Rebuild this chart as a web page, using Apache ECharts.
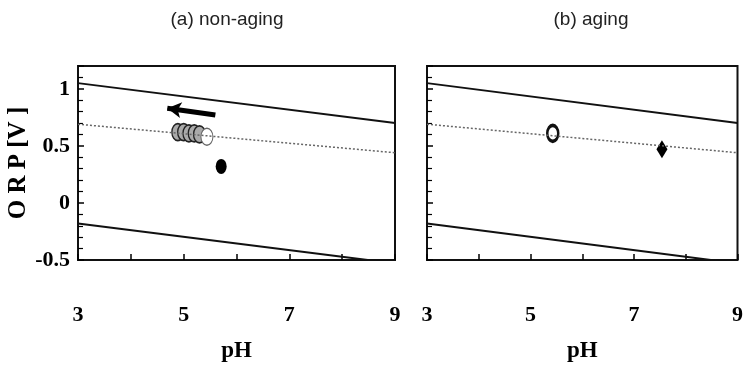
<!DOCTYPE html>
<html>
<head>
<meta charset="utf-8">
<script src="https://cdn.jsdelivr.net/npm/echarts@6/dist/echarts.min.js"></script>
<style>
  html, body { margin: 0; padding: 0; background: #fff; }
  #chart { width: 746px; height: 368px; }
</style>
</head>
<body>
<div id="chart"></div>
<script>
// 面板标题与坐标轴
const panelTitles = ["(a) non-aging", "(b) aging"];
const xTicks = [3, 5, 7, 9];
const yTicks = [-0.5, 0, 0.5, 1];

// 边界线（端点，从图上读取）
const upperLine = [[3, 1.05], [9, 0.70]];
const lowerLine = [[3, -0.18], [9, -0.53]];
const midLine = [[3, 0.69], [9, 0.44]];

// (a) non-aging 的点
const nonAgingOpen = [[4.89, 0.62], [5.0, 0.62], [5.1, 0.61], [5.2, 0.61], [5.3, 0.60]];
const nonAgingLast = [[5.44, 0.58]];
const nonAgingFilled = [[5.71, 0.32]];
const arrowFrom = [5.6, 0.77];
const arrowTo = [4.69, 0.83];

// (b) aging 的点
const agingOpen = [[5.43, 0.61]];
const agingDiamond = [[7.54, 0.47]];

const serifFont = "Liberation Serif";

function makeX(idx){
    return {
        type: 'value', gridIndex: idx, min: 3, max: 9, interval: 1,
        name: 'pH', nameLocation: 'middle', nameGap: 80,
        nameTextStyle: { fontFamily: serifFont, fontWeight: 'bold', fontSize: 23, color: '#000' },
        axisLine: { show: false, onZero: false },
        axisTick: { show: true, inside: true, length: 6, lineStyle: { color: '#000', width: 1.5 } },
        axisLabel: {
            margin: 44, fontFamily: serifFont, fontWeight: 'bold', fontSize: 22, color: '#000',
            formatter: function(v){ return xTicks.indexOf(v) >= 0 ? String(v) : ''; }
        },
        splitLine: { show: false }
    };
}
function makeY(idx, showLabels){
    return {
        type: 'value', gridIndex: idx, min: -0.5, max: 1.2, interval: 0.5,
        name: showLabels ? 'O R P [V ]' : '', nameLocation: 'middle', nameGap: 46, nameRotate: 90,
        nameTextStyle: { fontFamily: serifFont, fontWeight: 'bold', fontSize: 25, color: '#000' },
        axisLine: { show: false, onZero: false },
        axisTick: { show: true, inside: true, length: 6, lineStyle: { color: '#000', width: 1.5 } },
        minorTick: { show: true, splitNumber: 5, length: 5, lineStyle: { color: '#000', width: 1.2 } },
        axisLabel: {
            show: showLabels, margin: 8, fontFamily: serifFont, fontWeight: 'bold', fontSize: 22, color: '#000',
            formatter: function(v){ return yTicks.indexOf(Math.round(v*10)/10) >= 0 ? String(Math.round(v*10)/10) : ''; }
        },
        splitLine: { show: false }
    };
}
function boundLines(idx){
    return [
        { type: 'line', xAxisIndex: idx, yAxisIndex: idx, data: upperLine, symbol: 'none', silent: true,
          lineStyle: { color: '#111', width: 2 } },
        { type: 'line', xAxisIndex: idx, yAxisIndex: idx, data: lowerLine, symbol: 'none', silent: true,
          lineStyle: { color: '#111', width: 2 } },
        { type: 'line', xAxisIndex: idx, yAxisIndex: idx, data: midLine, symbol: 'none', silent: true,
          lineStyle: { color: '#666', width: 1.5, type: [2, 2] } }
    ];
}

let myChart = echarts.init(document.getElementById('chart'));
let option = {
    animation: false,
    backgroundColor: '#fff',
    title: [
        { text: panelTitles[0], left: 222, top: 5, textAlign: 'center',
          textStyle: { fontFamily: 'Liberation Sans', fontWeight: 'normal', fontSize: 19, color: '#222' } },
        { text: panelTitles[1], left: 586, top: 5, textAlign: 'center',
          textStyle: { fontFamily: 'Liberation Sans', fontWeight: 'normal', fontSize: 19, color: '#222' } }
    ],
    grid: [
        { left: 78, right: 351, top: 66, bottom: 108, show: true, borderColor: '#111', borderWidth: 2, backgroundColor: 'transparent' },
        { left: 427, right: 6, top: 66, bottom: 108, show: true, borderColor: '#111', borderWidth: 2, backgroundColor: 'transparent' }
    ],
    xAxis: [makeX(0), makeX(1)],
    yAxis: [makeY(0, true), makeY(1, false)],
    series: [].concat(boundLines(0), boundLines(1), [
        { type: 'scatter', xAxisIndex: 0, yAxisIndex: 0, data: nonAgingOpen, symbol: 'circle', symbolSize: [12, 17],
          itemStyle: { color: '#aaa', borderColor: '#222', borderWidth: 1.5, opacity: 1 } },
        { type: 'scatter', xAxisIndex: 0, yAxisIndex: 0, data: nonAgingLast, symbol: 'circle', symbolSize: [12, 17],
          itemStyle: { color: '#fff', borderColor: '#666', borderWidth: 1.2, opacity: 1 } },
        { type: 'scatter', xAxisIndex: 0, yAxisIndex: 0, data: nonAgingFilled, symbol: 'circle', symbolSize: [11, 15],
          itemStyle: { color: '#000', opacity: 1 } },
        { type: 'line', xAxisIndex: 0, yAxisIndex: 0, data: [], silent: true,
          markLine: {
              silent: true, symbol: ['none', 'arrow'], symbolSize: [12, 14],
              label: { show: false },
              lineStyle: { color: '#000', width: 5, type: 'solid' },
              data: [[{ coord: arrowFrom }, { coord: arrowTo }]]
          } },
        { type: 'scatter', xAxisIndex: 1, yAxisIndex: 1, data: agingOpen, symbol: 'circle', symbolSize: [11, 16],
          itemStyle: { color: '#fff', borderColor: '#111', borderWidth: 3, opacity: 1 } },
        { type: 'scatter', xAxisIndex: 1, yAxisIndex: 1, data: agingDiamond, symbol: 'diamond', symbolSize: [11, 18],
          itemStyle: { color: '#000', opacity: 1 } }
    ])
};
myChart.setOption(option);
</script>
</body>
</html>
